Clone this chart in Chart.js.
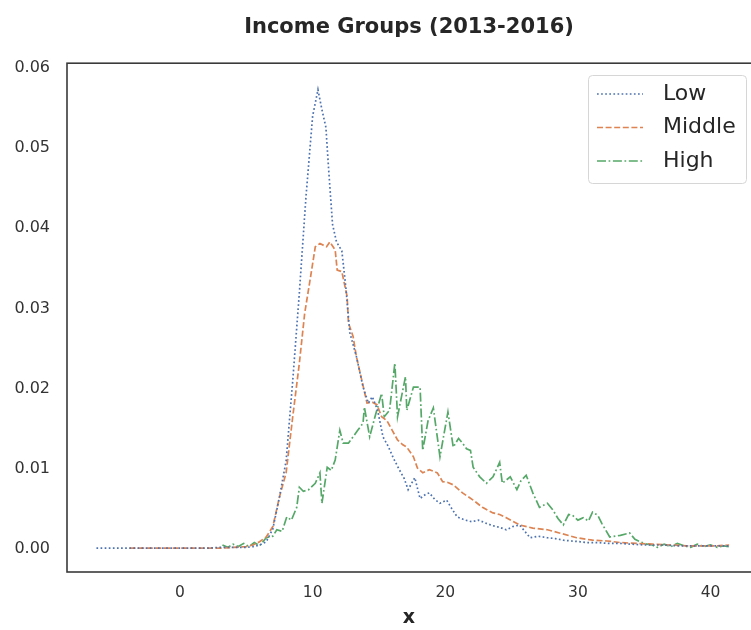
<!DOCTYPE html>
<html>
<head>
<meta charset="utf-8">
<script src="https://cdn.jsdelivr.net/npm/chart.js@4.4.1/dist/chart.umd.min.js"></script>
<style>
  body { margin: 0; background: #fff; }
  canvas { display: block; }
</style>
</head>
<body>
<canvas id="myChart" width="751" height="630"></canvas>
<script>
// dados
const titleText = 'Income Groups (2013-2016)';
const seriesNames = ['Low', 'Middle', 'High'];
const xTicks = [0, 10, 20, 30, 40];
const yTicks = [0, 0.01, 0.02, 0.03, 0.04, 0.05, 0.06];

const lowX = [-6.3, -5, -4, -3, -2, -1, 0, 1, 2, 3,
  4, 5, 5.5, 6, 6.5, 7, 7.5, 8, 8.5, 9,
  9.5, 10, 10.4, 10.7, 11, 11.2, 11.5, 11.8, 12.2, 12.5,
  12.8, 13.3, 13.8, 14.2, 14.5, 14.9, 15.3, 15.7, 16.1, 16.5,
  16.9, 17.2, 17.7, 18.1, 18.5, 18.8, 19.2, 19.6, 20.1, 20.5,
  20.9, 21.5, 22, 22.5, 23.1, 23.6, 24.1, 24.6, 25.1, 25.6,
  26, 26.4, 27, 27.7, 28.3, 28.9, 29.5, 30.2, 30.7, 31.5,
  32.3, 33.2, 34, 35, 35.6, 36.5, 37.5, 38.2, 39, 40, 41.4];
const lowY = [0.0001, 0.0001, 0.0001, 0.0001, 0.0001, 0.0001, 0.0001, 0.0001, 0.0001, 0.0002,
  0.0002, 0.0002, 0.0003, 0.0005, 0.0009, 0.0025, 0.0065, 0.011, 0.021, 0.032,
  0.044, 0.054, 0.0573, 0.0548, 0.0526, 0.0475, 0.0405, 0.0383, 0.0372, 0.0327,
  0.027, 0.024, 0.0202, 0.0182, 0.019, 0.0173, 0.014, 0.0128, 0.0113, 0.01,
  0.0088, 0.0074, 0.0089, 0.0063, 0.0068, 0.007, 0.0062, 0.0057, 0.0061, 0.005,
  0.004, 0.0036, 0.0034, 0.0036, 0.0032, 0.0029, 0.0027, 0.0024, 0.0028, 0.003,
  0.0022, 0.0014, 0.0016, 0.0014, 0.0013, 0.0011, 0.001, 0.0009, 0.0008, 0.0008,
  0.0007, 0.0007, 0.0006, 0.0005, 0.0005, 0.0005, 0.0004, 0.0004, 0.0004, 0.0004, 0.0004];

const middleX = [-3.8, -3, -2, -1, 0, 1, 2, 3, 4, 5,
  5.5, 6, 6.5, 7, 7.5, 8, 8.5, 9, 9.4, 9.8,
  10.2, 10.55, 11.05, 11.3, 11.7, 11.85, 12.2, 12.6, 12.7, 13.05,
  13.3, 13.7, 14.1, 14.5, 14.85, 15.2, 15.6, 16, 16.4, 16.8,
  17.1, 17.6, 17.9, 18.3, 18.8, 19.4, 19.8, 20.2, 20.6, 21.3,
  22.1, 22.8, 23.6, 24.1, 24.6, 25.6, 26.6, 27.7, 28.6, 29.9,
  31.1, 32.2, 33.2, 34.4, 35.6, 37, 38.2, 39.5, 40.5, 41.4];
const middleY = [0.0001, 0.0001, 0.0001, 0.0001, 0.0001, 0.0001, 0.0001, 0.0001, 0.0002, 0.0003,
  0.0005, 0.0009, 0.0015, 0.0028, 0.0065, 0.0095, 0.0165, 0.0232, 0.0294, 0.0335,
  0.0377, 0.0381, 0.0377, 0.0383, 0.0373, 0.0348, 0.0346, 0.0315, 0.0282, 0.0265,
  0.024, 0.0211, 0.0182, 0.0183, 0.018, 0.0165, 0.016, 0.0148, 0.0136, 0.013,
  0.0127, 0.0115, 0.0101, 0.0095, 0.0099, 0.0095, 0.0084, 0.0083, 0.008, 0.007,
  0.0061, 0.0052, 0.0045, 0.0043, 0.0039, 0.003, 0.0026, 0.0024, 0.002, 0.0014,
  0.0011, 0.001, 0.0008, 0.0007, 0.0006, 0.0005, 0.0004, 0.0004, 0.0004, 0.0005];

const highX = [3.2, 3.6, 4, 4.4, 4.8, 5.2, 5.6, 6, 6.5, 7,
  7.3, 7.7, 8.05, 8.4, 8.8, 9.0, 9.3, 9.7, 10.2, 10.55,
  10.7, 11.1, 11.4, 11.7, 12.05, 12.3, 12.7, 13.05, 13.4, 13.8,
  13.9, 14.3, 14.7, 15.2, 15.4, 15.8, 16.2, 16.4, 16.7, 17.0,
  17.1, 17.6, 18.1, 18.3, 18.7, 19.1, 19.6, 20.2, 20.6, 21.0,
  21.3, 21.6, 21.9, 22.1, 22.6, 23.1, 23.6, 24.1, 24.3, 24.9,
  25.4, 25.7, 26.1, 26.6, 27.1, 27.7, 28.1, 28.5, 28.9, 29.3,
  29.6, 30.0, 30.4, 30.8, 31.1, 31.5, 31.8, 32.4, 33.2, 33.9,
  34.3, 34.7, 35.2, 35.6, 36.0, 36.5, 37.0, 37.5, 38.0, 38.5,
  39.0, 39.5, 40.0, 40.5, 41.0, 41.4];
const highY = [0.0005, 0.0002, 0.0006, 0.0003, 0.0007, 0.0003, 0.0008, 0.0004, 0.0014, 0.0016,
  0.0024, 0.0022, 0.004, 0.0036, 0.0052, 0.0077, 0.0072, 0.0074, 0.0082, 0.0095,
  0.0057, 0.0102, 0.0098, 0.0111, 0.0148, 0.0132, 0.0132, 0.014, 0.0148, 0.0157,
  0.0177, 0.014, 0.0165, 0.0194, 0.0165, 0.0173, 0.0232, 0.0165, 0.019, 0.0215,
  0.0173, 0.0202, 0.0202, 0.0123, 0.016, 0.0176, 0.0115, 0.0171, 0.0127, 0.0138,
  0.0132, 0.0125, 0.0123, 0.0102, 0.009, 0.0082, 0.009, 0.0108, 0.0082, 0.009,
  0.0074, 0.0085, 0.0092, 0.007, 0.0052, 0.0057, 0.0049, 0.0038, 0.003, 0.0043,
  0.0042, 0.0036, 0.0039, 0.0035, 0.0046, 0.0042, 0.0032, 0.0015, 0.0017, 0.002,
  0.0012, 0.0009, 0.0006, 0.0005, 0.0002, 0.0006, 0.0003, 0.0007, 0.0004, 0.0002,
  0.0006, 0.0003, 0.0005, 0.0002, 0.0004, 0.0003];

function pontos(xs, ys) {
  return xs.map((x, i) => ({ x: x, y: ys[i] }));
}

const fonte = 'DejaVu Sans';
const corTexto = '#262626';

// moldura em volta da área do gráfico + legenda com caixa
const moldura = {
  id: 'moldura',
  afterDraw(chart) {
    const ctx = chart.ctx;
    const a = chart.chartArea;
    ctx.save();
    ctx.strokeStyle = '#3a3a3a';
    ctx.lineWidth = 1.6;
    ctx.setLineDash([]);
    ctx.strokeRect(a.left, a.top, a.right - a.left + 2, a.bottom - a.top);

    // legenda
    const bx = 588, by = 75, bw = 158, bh = 108;
    ctx.fillStyle = 'rgba(255,255,255,0.85)';
    ctx.strokeStyle = '#d6d6d6';
    ctx.lineWidth = 1;
    ctx.beginPath();
    ctx.roundRect(bx + 0.5, by + 0.5, bw, bh, 4);
    ctx.fill();
    ctx.stroke();
    ctx.font = '22px "' + fonte + '"';
    ctx.textBaseline = 'middle';
    ctx.fillStyle = corTexto;
    chart.data.datasets.forEach((ds, i) => {
      const y = 94 + i * 33.5;
      ctx.strokeStyle = ds.borderColor;
      ctx.lineWidth = ds.borderWidth;
      ctx.setLineDash(ds.borderDash);
      ctx.beginPath();
      ctx.moveTo(597, y);
      ctx.lineTo(643, y);
      ctx.stroke();
      ctx.setLineDash([]);
      ctx.fillText(ds.label, 663, y);
    });
    ctx.restore();
  }
};

var ctx = document.getElementById('myChart').getContext('2d');
var chart = new Chart(ctx, {
  type: 'line',
  data: {
    datasets: [{
      label: seriesNames[0],
      data: pontos(lowX, lowY),
      borderColor: '#4C72B0',
      borderWidth: 1.7,
      borderDash: [1.7, 2.4]
    }, {
      label: seriesNames[1],
      data: pontos(middleX, middleY),
      borderColor: '#DD8452',
      borderWidth: 1.7,
      borderDash: [6, 2.6]
    }, {
      label: seriesNames[2],
      data: pontos(highX, highY),
      borderColor: '#55A868',
      borderWidth: 1.7,
      borderDash: [9, 2.6, 1.7, 2.6]
    }]
  },
  options: {
    responsive: false,
    animation: false,
    layout: { padding: { left: 0, right: 0, top: 0, bottom: 0 } },
    elements: {
      point: { radius: 0 },
      line: { tension: 0, borderCapStyle: 'butt', fill: false }
    },
    plugins: {
      legend: { display: false },
      tooltip: { enabled: false },
      title: {
        display: true,
        text: titleText,
        fullSize: false,
        color: corTexto,
        font: { family: fonte, size: 21, weight: 'bold' },
        padding: { top: 15, bottom: 23 }
      }
    },
    scales: {
      x: {
        type: 'linear',
        min: -8.52,
        max: 43.05,
        grid: { display: false, drawTicks: false },
        border: { display: false },
        afterBuildTicks: s => { s.ticks = xTicks.map(v => ({ value: v })); },
        afterFit: s => { s.height = 58; },
        ticks: {
          color: '#333',
          font: { family: fonte, size: 15.5 },
          padding: 12,
          maxRotation: 0
        },
        title: {
          display: true,
          text: 'x',
          color: corTexto,
          font: { family: fonte, size: 19, weight: 'bold' },
          padding: { top: 0, bottom: 1 }
        }
      },
      y: {
        min: -0.00287,
        max: 0.0606,
        grid: { display: false, drawTicks: false },
        border: { display: false },
        afterBuildTicks: s => { s.ticks = yTicks.map(v => ({ value: v })); },
        afterFit: s => { s.width = 67; },
        ticks: {
          color: '#333',
          font: { family: fonte, size: 16 },
          padding: 17,
          callback: v => v.toFixed(2)
        }
      }
    }
  },
  plugins: [moldura]
});
</script>
</body>
</html>
